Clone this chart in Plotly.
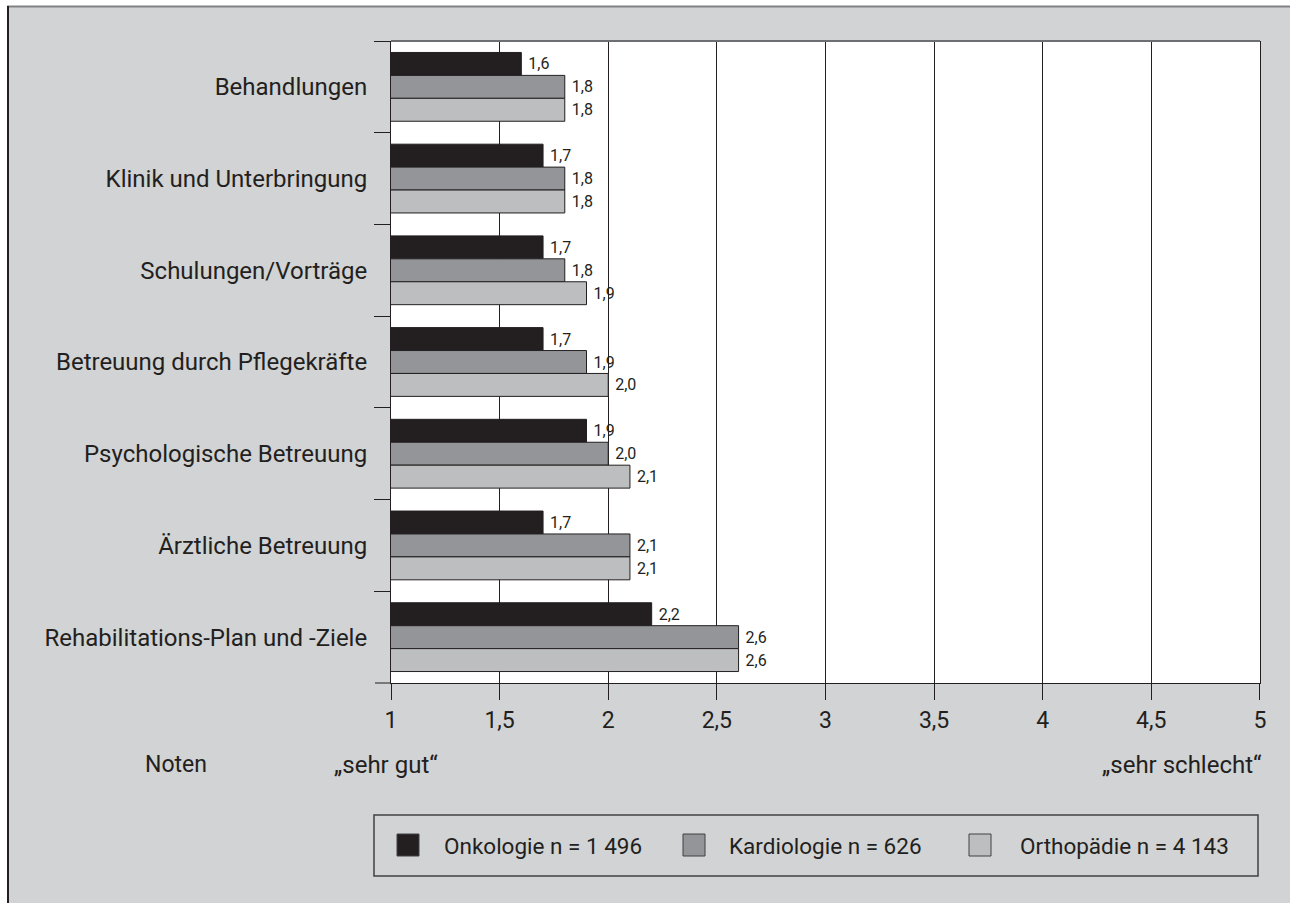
import plotly.graph_objects as go

# Kategorien (von oben nach unten)
categories = [
    "Behandlungen",
    "Klinik und Unterbringung",
    "Schulungen/Vorträge",
    "Betreuung durch Pflegekräfte",
    "Psychologische Betreuung",
    "Ärztliche Betreuung",
    "Rehabilitations-Plan und -Ziele",
]

# Durchschnittsnoten je Indikation
onkologie = [1.6, 1.7, 1.7, 1.7, 1.9, 1.7, 2.2]
kardiologie = [1.8, 1.8, 1.8, 1.9, 2.0, 2.1, 2.6]
orthopaedie = [1.8, 1.8, 1.9, 2.0, 2.1, 2.1, 2.6]

series_names = ["Onkologie n = 1 496", "Kardiologie n = 626", "Orthopädie n = 4 143"]
series_values = [onkologie, kardiologie, orthopaedie]
series_colors = ["#231f20", "#939598", "#bcbec0"]

tick_values = [1, 1.5, 2, 2.5, 3, 3.5, 4, 4.5, 5]

W, H = 1290, 903
ML, MR, MT, MB = 391, 30, 41, 220
PW, PH = W - ML - MR, H - MT - MB

FONT = "Roboto"
INK = "#231f20"
BG = "#d1d3d4"


def px(x):
    return (x - ML) / PW


def py(y):
    return (H - MB - y) / PH


def font(size):
    return dict(family=FONT, size=size, color=INK)


fig = go.Figure()
for name, vals, col in zip(series_names, series_values, series_colors):
    fig.add_trace(go.Bar(
        y=categories, x=vals, orientation="h", name=name,
        marker=dict(color=col, line=dict(color=INK, width=1)),
        texttemplate="\u00a0%{x:.1f}", textposition="outside",
        textfont=font(16),
        showlegend=False, cliponaxis=False,
    ))

shapes = [
    # weißer Rand außerhalb des Rahmens
    dict(type="rect", xref="paper", yref="paper", x0=px(0), x1=px(7), y0=py(H), y1=py(0),
         fillcolor="white", line=dict(width=0), layer="above"),
    dict(type="rect", xref="paper", yref="paper", x0=px(0), x1=px(W), y0=py(6), y1=py(0),
         fillcolor="white", line=dict(width=0), layer="above"),
    dict(type="line", xref="paper", yref="paper", x0=px(7), x1=px(W), y0=py(6.5), y1=py(6.5),
         line=dict(color="#808285", width=2)),
    dict(type="line", xref="paper", yref="paper", x0=px(8), x1=px(8), y0=py(6), y1=py(H),
         line=dict(color=INK, width=2)),
    # obere Begrenzung der Zeichenfläche
    dict(type="line", xref="paper", yref="paper", x0=0, x1=1, y0=1, y1=1,
         line=dict(color="#6d6e71", width=2)),
    # verlängerte x-Achse nach links
    dict(type="line", xref="paper", yref="paper", x0=px(375), x1=0, y0=0, y1=0,
         line=dict(color=INK, width=1)),
    # Legendenrahmen
    dict(type="rect", xref="paper", yref="paper", x0=px(374), x1=px(1258), y0=py(876), y1=py(815),
         line=dict(color="#414042", width=1.5), fillcolor=BG),
]

annotations = [
    dict(text="Noten", x=px(176), y=py(765), xref="paper", yref="paper",
         showarrow=False, xanchor="center", yanchor="middle", font=font(23)),
    dict(text="„sehr gut“", x=px(332), y=py(765), xref="paper", yref="paper",
         showarrow=False, xanchor="left", yanchor="middle", font=font(24)),
    dict(text="„sehr schlecht“", x=px(1264), y=py(765), xref="paper", yref="paper",
         showarrow=False, xanchor="right", yanchor="middle", font=font(24)),
]

# Legende aus Quadraten und Texten
legend_box_x = [397, 683, 969]
legend_text_x = [442, 727, 1018]
for bx, tx, name, col in zip(legend_box_x, legend_text_x, series_names, series_colors):
    shapes.append(dict(type="rect", xref="paper", yref="paper",
                       x0=px(bx), x1=px(bx + 22), y0=py(856), y1=py(834),
                       fillcolor=col, line=dict(color="#414042", width=1)))
    annotations.append(dict(text=name, x=px(tx), y=py(846), xref="paper", yref="paper",
                            showarrow=False, xanchor="left", yanchor="middle",
                            font=font(22.5)))

fig.update_layout(
    width=W, height=H,
    margin=dict(l=ML, r=MR, t=MT, b=MB, pad=0),
    paper_bgcolor=BG, plot_bgcolor="white",
    barmode="group", bargap=0.25, bargroupgap=0,
    separators=", ",
    font=font(23),
    shapes=shapes, annotations=annotations,
    showlegend=False,
)
fig.update_xaxes(
    range=[1, 5.0004], tickvals=tick_values, tickformat=".1~f",
    showgrid=True, gridcolor=INK, gridwidth=1,
    showline=True, linecolor=INK, linewidth=1,
    ticks="outside", ticklen=16, tickcolor=INK, tickwidth=1,
    tickfont=font(23),
    zeroline=False, fixedrange=True,
)
fig.update_yaxes(
    autorange="reversed", type="category",
    showgrid=False, showline=True, linecolor=INK, linewidth=1, mirror=True,
    ticks="outside", ticklen=16, tickcolor=INK, tickwidth=1, tickson="boundaries",
    tickfont=font(24),
    ticklabelstandoff=18, fixedrange=True,
)

fig.write_html("out.html")
